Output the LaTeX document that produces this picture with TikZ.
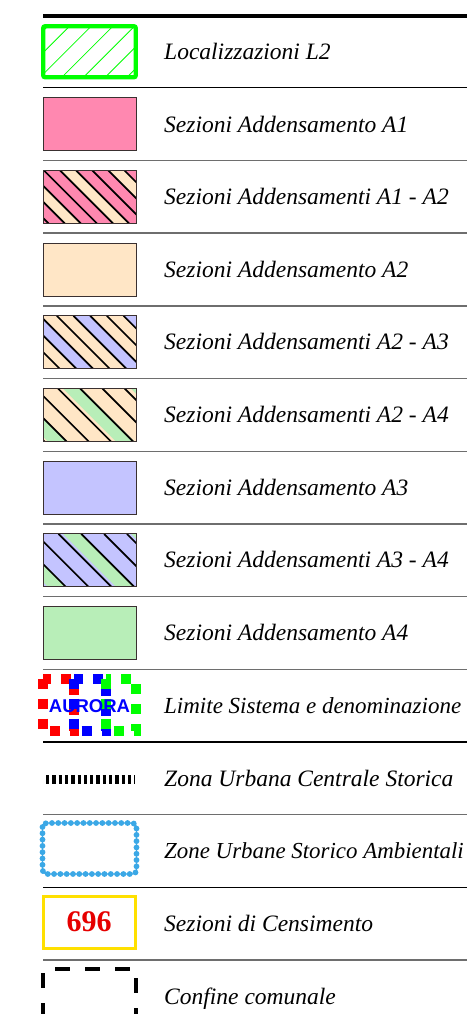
\documentclass[tikz,border=0pt]{standalone}
\usepackage{fontspec}
\setmainfont{Liberation Serif}
\newfontfamily\arialfont{Liberation Sans}
\definecolor{pinkA}{HTML}{FF88B0}
\definecolor{creamA}{HTML}{FFE6C6}
\definecolor{blueA}{HTML}{C4C4FF}
\definecolor{greenA}{HTML}{B8EEB8}
\definecolor{limeL}{HTML}{00FF00}
\definecolor{zusblue}{HTML}{3BA8E6}
\definecolor{yelC}{HTML}{FFE000}
\definecolor{redC}{HTML}{E60000}
\definecolor{sepgray}{HTML}{6E6E6E}
\definecolor{bordgray}{HTML}{3A3030}
\begin{document}
\begin{tikzpicture}[x=1pt,y=-1pt,
  sepline/.style={line width=1.4pt},
  labeltext/.style={anchor=base west,inner sep=0pt,font=\itshape\fontsize{23.5}{26}\selectfont},
  hatchline/.style={black,line width=1.7pt},
  swborder/.style={draw=bordgray,line width=0.9pt},
  aurdash/.style={line width=10pt,dash pattern=on 10pt off 10pt}]
\useasboundingbox (0,0) rectangle (467,1014);
\fill[white] (0,0) rectangle (467,1014);

% separators
\draw[line width=4pt] (43,16) -- (467,16);
\draw[sepline,black] (43,87.7) -- (467,87.7);
\draw[sepline,sepgray] (43,160.4) -- (467,160.4);
\draw[sepline,sepgray] (43,233.1) -- (467,233.1);
\draw[sepline,sepgray] (43,305.8) -- (467,305.8);
\draw[sepline,sepgray] (43,378.5) -- (467,378.5);
\draw[sepline,sepgray] (43,451.2) -- (467,451.2);
\draw[sepline,sepgray] (43,523.9) -- (467,523.9);
\draw[sepline,sepgray] (43,596.6) -- (467,596.6);
\draw[sepline,sepgray] (43,669.3) -- (467,669.3);
\draw[sepline,black] (43,742) -- (467,742);
\draw[sepline,sepgray] (43,814.7) -- (467,814.7);
\draw[sepline,black] (43,887.4) -- (467,887.4);
\draw[sepline,sepgray] (43,960.1) -- (467,960.1);

% row 0: Localizzazioni L2
\begin{scope}
  \clip (43,26) rectangle (136,78);
  \foreach \k in {0,...,6} {
    \pgfmathsetmacro\cc{50+21.7*\k}
    \draw[limeL,line width=0.8pt] (\cc,24) -- (\cc-56,80);
  }
\end{scope}
\draw[limeL,line width=4.3pt,rounded corners=2pt] (43.2,26.2) rectangle (135.8,77.3);

% row 1: A1
\fill[pinkA] (43,97.7) rectangle (136,150.7);
\draw[swborder] (43,97.7) rectangle (136,150.7);

% row 2: A1 - A2
\begin{scope}
  \clip (43,170.4) rectangle (136,223.4);
  \fill[pinkA] (43,170.4) rectangle (136,223.4);
  \foreach \k in {-2,...,2} {
    \pgfmathsetmacro\cc{43+17+48.3*\k}
    \fill[creamA] (\cc,170.4) -- (\cc+16.1,170.4) -- (\cc+69.1,223.4) -- (\cc+53,223.4) -- cycle;
  }
  \foreach \m in {-6,...,6} {
    \pgfmathsetmacro\dd{43+17+16.1*\m}
    \draw[hatchline] (\dd,170.4) -- (\dd+53,223.4);
  }
\end{scope}
\draw[swborder] (43,170.4) rectangle (136,223.4);

% row 3: A2
\fill[creamA] (43,243.1) rectangle (136,296.1);
\draw[swborder] (43,243.1) rectangle (136,296.1);

% row 4: A2 - A3
\begin{scope}
  \clip (43,315.8) rectangle (136,368.8);
  \fill[creamA] (43,315.8) rectangle (136,368.8);
  \foreach \k in {-2,...,2} {
    \pgfmathsetmacro\cc{43+30.5+50*\k}
    \fill[blueA] (\cc,315.8) -- (\cc+16.7,315.8) -- (\cc+69.7,368.8) -- (\cc+53,368.8) -- cycle;
  }
  \foreach \m in {-6,...,6} {
    \pgfmathsetmacro\dd{43+30.5+16.67*\m}
    \draw[hatchline] (\dd,315.8) -- (\dd+53,368.8);
  }
\end{scope}
\draw[swborder] (43,315.8) rectangle (136,368.8);

% row 5: A2 - A4
\begin{scope}
  \clip (43,388.5) rectangle (136,441.5);
  \fill[creamA] (43,388.5) rectangle (136,441.5);
  \foreach \k in {-2,...,2} {
    \pgfmathsetmacro\cc{43+20+68*\k}
    \fill[greenA] (\cc,388.5) -- (\cc+18.5,388.5) -- (\cc+71.5,441.5) -- (\cc+53,441.5) -- cycle;
  }
  \foreach \m in {-4,...,5} {
    \pgfmathsetmacro\dd{43+15+22.2*\m}
    \draw[hatchline] (\dd,388.5) -- (\dd+53,441.5);
  }
\end{scope}
\draw[swborder] (43,388.5) rectangle (136,441.5);

% row 6: A3
\fill[blueA] (43,461.2) rectangle (136,514.2);
\draw[swborder] (43,461.2) rectangle (136,514.2);

% row 7: A3 - A4
\begin{scope}
  \clip (43,533.9) rectangle (136,586.9);
  \fill[blueA] (43,533.9) rectangle (136,586.9);
  \foreach \k in {-2,...,2} {
    \pgfmathsetmacro\cc{43+20+68*\k}
    \fill[greenA] (\cc,533.9) -- (\cc+18.5,533.9) -- (\cc+71.5,586.9) -- (\cc+53,586.9) -- cycle;
  }
  \foreach \m in {-4,...,5} {
    \pgfmathsetmacro\dd{43+15.5+22.8*\m}
    \draw[hatchline] (\dd,533.9) -- (\dd+53,586.9);
  }
\end{scope}
\draw[swborder] (43,533.9) rectangle (136,586.9);

% row 8: A4
\fill[greenA] (43,606.6) rectangle (136,659.6);
\draw[swborder] (43,606.6) rectangle (136,659.6);

% row 9: AURORA
\draw[aurdash,red] (42.5,678.5) rectangle (74,731);
\draw[aurdash,blue] (74,678.5) rectangle (106,731);
\draw[aurdash,limeL] (106,678.5) rectangle (136,731);
\node[font=\arialfont\bfseries\fontsize{18.5}{18}\selectfont,text=blue,inner sep=0pt] (aurora) at (89.5,706) {AURORA};

% row 10: Zona Urbana Centrale Storica
\draw[line width=9pt,dash pattern=on 3.3pt off 3pt] (46,779.5) -- (134.5,779.5);

% row 11: Zone Urbane Storico Ambientali
\draw[zusblue,line width=1.2pt,rounded corners=4pt] (42.5,823) rectangle (136.5,874);
\draw[zusblue,line width=5.8pt,line cap=round,dash pattern=on 0pt off 6.3pt,rounded corners=4pt] (42.5,823) rectangle (136.5,874);

% row 12: Sezioni di Censimento
\draw[yelC,line width=3.2pt] (43.5,896.5) rectangle (135.5,948.5);
\node[font=\bfseries\fontsize{30}{30}\selectfont,text=redC,inner sep=0pt] (sez) at (89,922) {696};

% row 13: Confine comunale
\draw[line width=3.5pt,dash pattern=on 15pt off 15pt,dash phase=18pt] (43,969) -- (136,969);
\draw[line width=3.5pt,dash pattern=on 15pt off 15pt,dash phase=26pt] (43,969) -- (43,1030);
\draw[line width=3.5pt,dash pattern=on 15pt off 15pt,dash phase=21pt] (136,969) -- (136,1030);

% labels
\node[labeltext] (l0) at (164,59.3) {Localizzazioni L2};
\node[labeltext] (l1) at (164,132) {Sezioni Addensamento A1};
\node[labeltext] (l2) at (164,204.4) {Sezioni Addensamenti A1 - A2};
\node[labeltext] (l3) at (164,277.1) {Sezioni Addensamento A2};
\node[labeltext] (l4) at (164,349.8) {Sezioni Addensamenti A2 - A3};
\node[labeltext] (l5) at (164,422.5) {Sezioni Addensamenti A2 - A4};
\node[labeltext] (l6) at (164,495.2) {Sezioni Addensamento A3};
\node[labeltext] (l7) at (164,567.9) {Sezioni Addensamenti A3 - A4};
\node[labeltext] (l8) at (164,640.6) {Sezioni Addensamento A4};
\node[labeltext,font=\itshape\fontsize{23}{26}\selectfont] (l9) at (164,713.3) {Limite Sistema e denominazione};
\node[labeltext] (l10) at (164,786) {Zona Urbana Centrale Storica};
\node[labeltext,font=\itshape\fontsize{22.9}{26}\selectfont] (l11) at (164,858.7) {Zone Urbane Storico Ambientali};
\node[labeltext] (l12) at (164,931.4) {Sezioni di Censimento};
\node[labeltext] (l13) at (164,1004.1) {Confine comunale};
\end{tikzpicture}
\end{document}
